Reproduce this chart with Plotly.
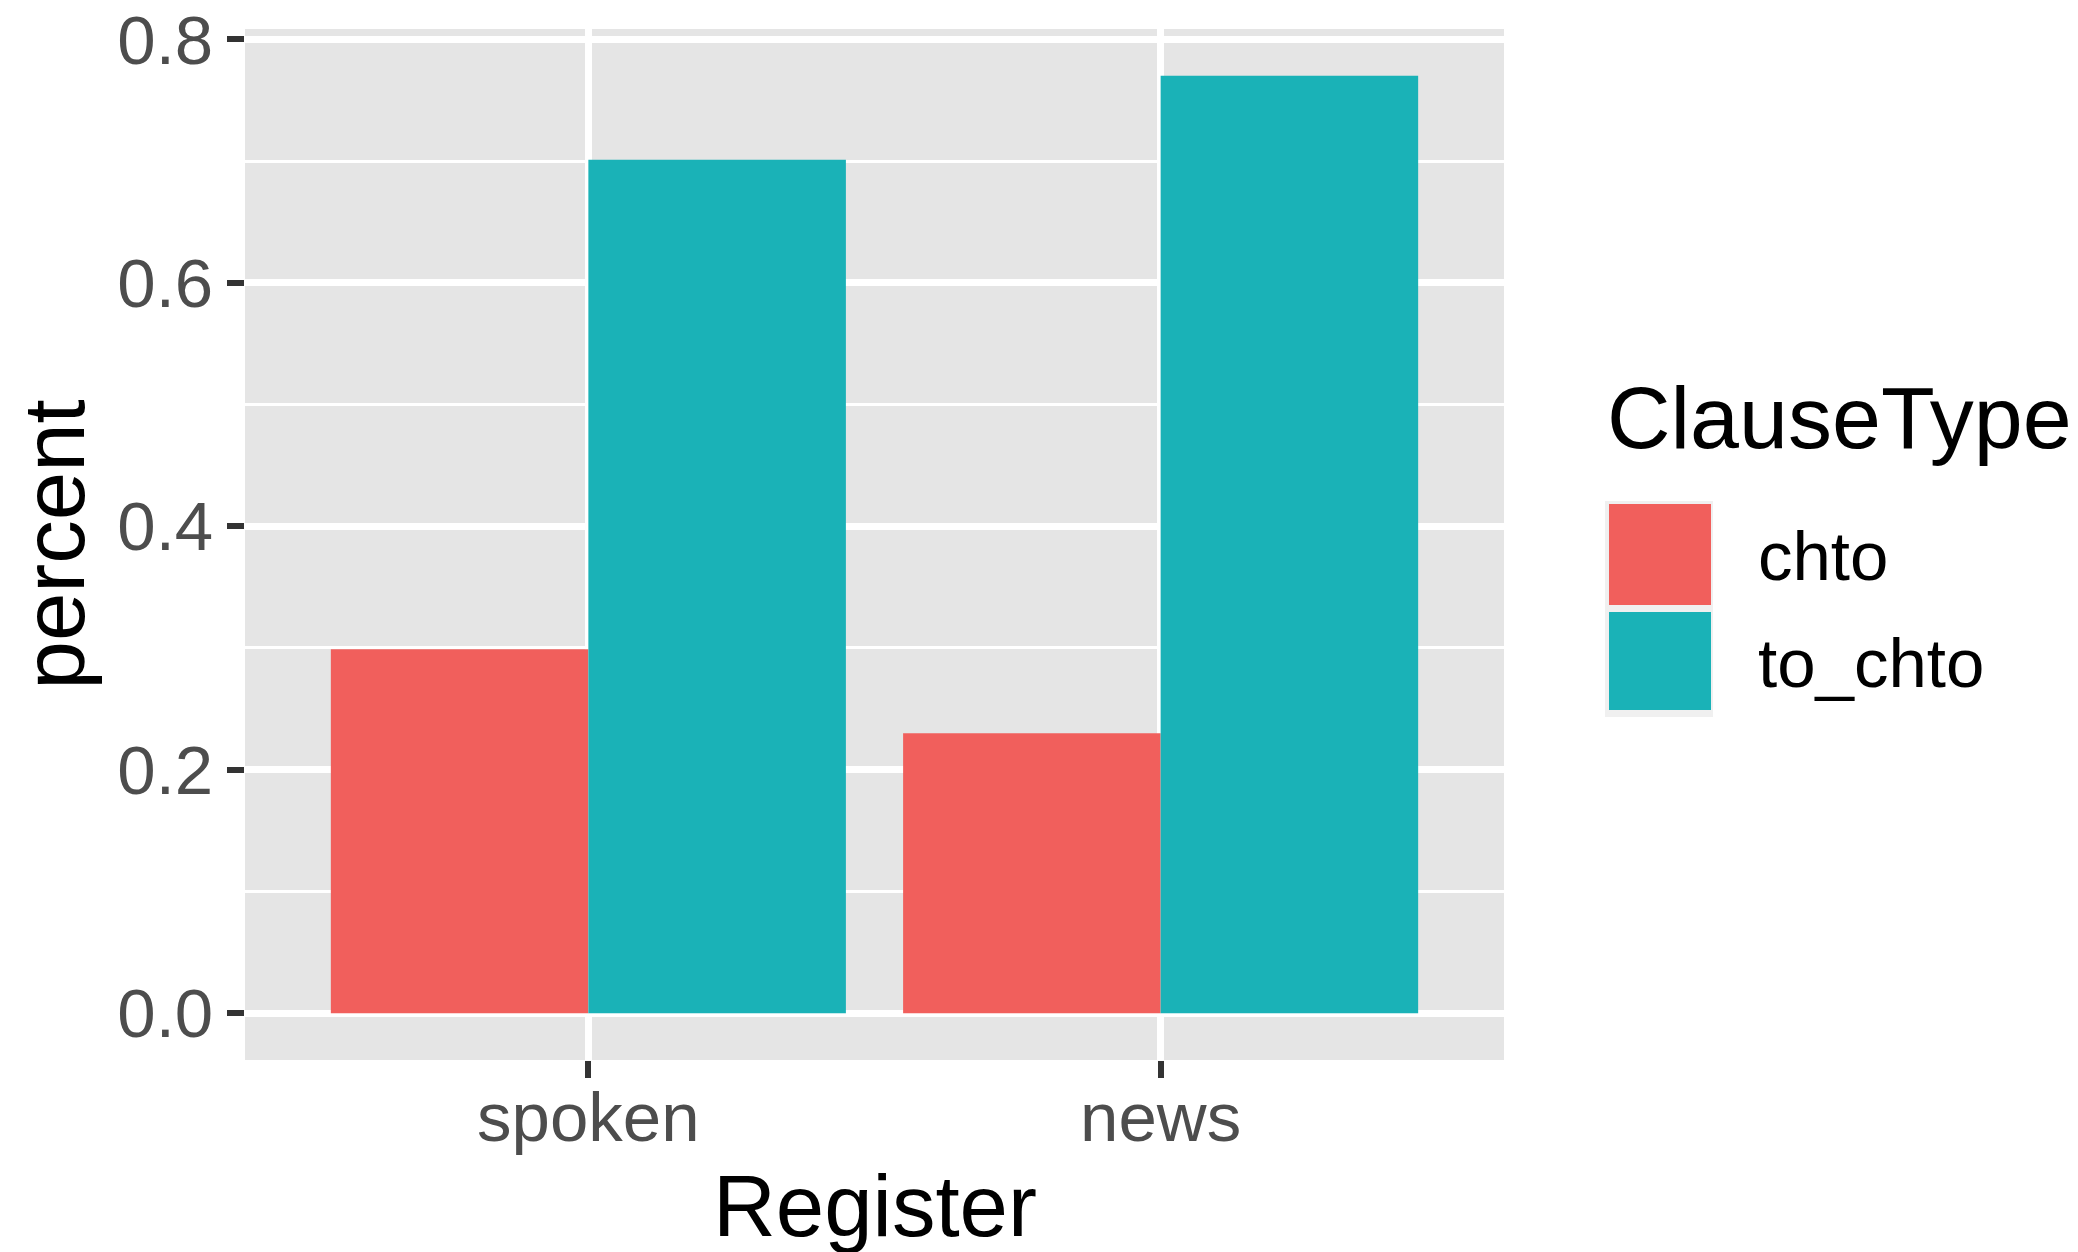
import plotly.graph_objects as go

# data
registers = ["spoken", "news"]
clause_types = ["chto", "to_chto"]
pct_chto = [0.299, 0.230]
pct_to_chto = [0.701, 0.770]
y_ticks = [0.0, 0.2, 0.4, 0.6, 0.8]
y_tick_labels = ["0.0", "0.2", "0.4", "0.6", "0.8"]

colors = ["#F15F5C", "#1AB2B7"]
font = "Liberation Sans, Arial, Helvetica, sans-serif"

# page / panel geometry in screen pixels (page body adds an 8px offset)
OFF = 8
W, H = 2078 - OFF, 1252 - OFF
L, R, T, B = 245, 1504, 29, 1060


def px_x(x):
    return (x - L) / (R - L)


def px_y(y):
    return (B - y) / (B - T)


chto = go.Bar(x=registers, y=pct_chto, name=clause_types[0], marker=dict(color=colors[0], line=dict(width=0)))
to_chto = go.Bar(x=registers, y=pct_to_chto, name=clause_types[1], marker=dict(color=colors[1], line=dict(width=0)))

fig = go.Figure([chto, to_chto])

# legend drawn by hand (ggplot style keys)
shapes = [
    dict(type="rect", xref="paper", yref="paper", x0=px_x(1605), x1=px_x(1713), y0=px_y(717), y1=px_y(501),
         fillcolor="#F0F0F0", line=dict(width=0), layer="below"),
]
key_rows = [(504, 605), (612, 710)]
annos = []
for (top, bot), c, name in zip(key_rows, colors, clause_types):
    shapes.append(
        dict(type="rect", xref="paper", yref="paper", x0=px_x(1609), x1=px_x(1711), y0=px_y(bot), y1=px_y(top),
             fillcolor=c, line=dict(width=0))
    )
    annos.append(
        dict(xref="paper", yref="paper", x=px_x(1756), y=px_y((top + bot) / 2 + 2), text=name, showarrow=False,
             xanchor="left", yanchor="middle", font=dict(family=font, size=69, color="black"))
    )

annos.append(
    dict(xref="paper", yref="paper", x=px_x(1605), y=px_y(418), text="ClauseType", showarrow=False,
         xanchor="left", yanchor="middle", font=dict(family=font, size=88, color="black"))
)
# axis titles
annos.append(
    dict(xref="paper", yref="paper", x=0.5, y=px_y(1205), text="Register", showarrow=False,
         xanchor="center", yanchor="middle", font=dict(family=font, size=87, color="black"))
)
annos.append(
    dict(xref="paper", yref="paper", x=px_x(53), y=0.5, text="percent", showarrow=False, textangle=-90,
         xanchor="center", yanchor="middle", font=dict(family=font, size=87, color="black"))
)

fig.update_layout(
    width=W,
    height=H,
    margin=dict(l=L - OFF, r=W - (R - OFF), t=T - OFF, b=H - (B - OFF), pad=0, autoexpand=False),
    paper_bgcolor="white",
    plot_bgcolor="#E5E5E5",
    barmode="group",
    bargap=0.1,
    bargroupgap=0,
    showlegend=False,
    shapes=shapes,
    annotations=annos,
    font=dict(family=font, size=69, color="#4D4D4D"),
)

fig.update_xaxes(
    type="category",
    range=[-0.6, 1.6],
    automargin=False,
    showgrid=True,
    gridcolor="white",
    gridwidth=6.5,
    ticks="outside",
    ticklen=17,
    tickwidth=6,
    tickcolor="#333333",
    tickfont=dict(family=font, size=69, color="#4D4D4D"),
    ticklabelstandoff=-20,
    ticklabeloverflow="allow",
    showline=False,
    zeroline=False,
    fixedrange=True,
)

fig.update_yaxes(
    range=[-0.0385, 0.8085],
    automargin=False,
    tickvals=y_ticks,
    ticktext=y_tick_labels,
    showgrid=True,
    gridcolor="white",
    gridwidth=6.5,
    minor=dict(dtick=0.1, tick0=0, showgrid=True, gridcolor="white", gridwidth=3.3, ticks=""),
    ticks="outside",
    ticklen=17,
    tickwidth=6,
    tickcolor="#333333",
    tickfont=dict(family=font, size=69, color="#4D4D4D"),
    ticklabelstandoff=0,
    ticklabeloverflow="allow",
    showline=False,
    zeroline=False,
    fixedrange=True,
)

fig.write_html("out.html")
